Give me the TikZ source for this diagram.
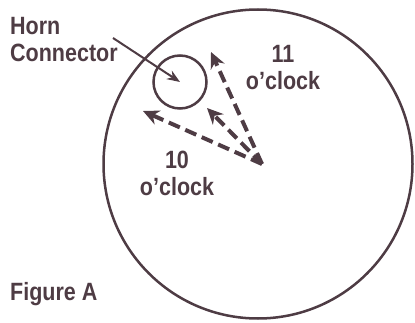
\documentclass[tikz,border=0pt]{standalone}
\usepackage{xcolor}
\usepackage{fontspec}
\setmainfont{Liberation Sans}[FakeStretch=0.86]
\usepackage{tikz}
\usetikzlibrary{arrows.meta,positioning}
\definecolor{inkbrown}{RGB}{78,60,68}
\tikzset{
	lbl/.style={
		text=inkbrown,
		font=\fontsize{25}{27}\selectfont\bfseries,
		inner sep=0pt
	},
	ring/.style={
		circle,
		draw=inkbrown,
		line width=2.5pt,
		inner sep=0pt
	},
	dashline/.style={-{Stealth[length=16pt,width=15pt]},draw=inkbrown,line width=4pt,dash pattern=on 12pt off 6pt}
}

\begin{document}
\begin{tikzpicture}[x=1pt,y=-1pt,
			pointer/.style={-{Stealth[length=13pt,width=10pt]},draw=inkbrown,line width=2pt}]
		\useasboundingbox (0,0) rectangle (415,323);
		\node[ring,minimum size=309pt] (wheel) at (258,164) {};
		\node[ring,minimum size=53pt] (horncon) at (180,82) {};

		\node[lbl,anchor=north west,align=left] (hornlbl) at (10,17) {Horn\\Connector};
		\node[lbl,anchor=north,align=center] (eleven) at (283,45) {11\\o’clock};
		\node[lbl,anchor=north,align=center] (ten) at (177,151) {10\\o’clock};
		\node[lbl,anchor=north west] (figlbl) at (10,282) {Figure A};

		\coordinate (hornend) at (113,38);
		\coordinate (hub) at (262,164);
		\coordinate (tenpos) at (143,111);
		\coordinate (midpos) at (207,108);
		\coordinate (elevenpos) at (211,52);

		\draw[pointer] (hornend) -- (horncon.center);
		\draw[dashline] (hub) -- (tenpos);
		\draw[dashline] (hub) -- (midpos);
		\draw[dashline] (hub) -- (elevenpos);
	\end{tikzpicture}
\end{document}
